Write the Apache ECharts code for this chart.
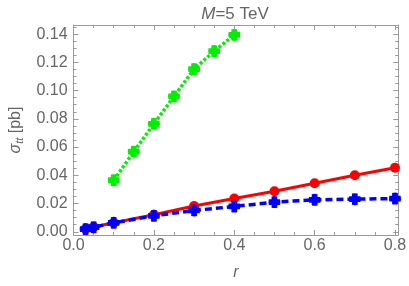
<!DOCTYPE html>
<html><head><meta charset="utf-8">
<script src="https://cdn.jsdelivr.net/npm/echarts@6/dist/echarts.min.js"></script>
<style>html,body{margin:0;padding:0;background:#fff}#c{width:409px;height:286px}</style>
</head><body><div id="c"></div>
<script>
var rBlue = [0.03, 0.05, 0.1, 0.2, 0.3, 0.4, 0.5, 0.6, 0.7, 0.8];
var sigmaBlue = [0.0019, 0.0032, 0.0063, 0.0113, 0.0151, 0.0179, 0.0210, 0.0226, 0.0231, 0.0235];
var rRed = [0.03, 0.05, 0.1, 0.2, 0.3, 0.4, 0.5, 0.6, 0.7, 0.8];
var sigmaRed = [0.0020, 0.0034, 0.0064, 0.0121, 0.0183, 0.0236, 0.0287, 0.0344, 0.0400, 0.0454];
var rGreen = [0.1, 0.15, 0.2, 0.25, 0.3, 0.35, 0.4];
var sigmaGreen = [0.0365, 0.0567, 0.0765, 0.0959, 0.1153, 0.1280, 0.1395];
var xTicks = [0.0, 0.2, 0.4, 0.6, 0.8];
var yTicks = [0.00, 0.02, 0.04, 0.06, 0.08, 0.10, 0.12, 0.14];

function pairs(xs, ys) { return xs.map(function (x, i) { return [x, ys[i]]; }); }
function minorList(major, step) {
  var out = [];
  for (var i = 0; i < major.length; i++) {
    for (var k = 1; k < 4; k++) out.push(+(major[i] + k * step).toFixed(4));
  }
  return out;
}
var crossPath = 'path://M2.6,0.3 Q5,-0.3 7.4,0.3 L7.4,2.6 L9.7,2.6 Q10.3,5 9.7,7.4 L7.4,7.4 L7.4,9.7 Q5,10.3 2.6,9.7 L2.6,7.4 L0.3,7.4 Q-0.3,5 0.3,2.6 L2.6,2.6 Z';
var txt = '#666666', frame = '#9a9a9a';
var FONT = 'Liberation Sans';

var xMin = 0, xMax = 0.808, yMin = -0.0023, yMax = 0.1465;
var xMinor = minorList(xTicks, 0.05).filter(function (v) { return v < xMax; });
var yMinor = minorList(yTicks, 0.005).filter(function (v) { return v < yMax; });

function axis(pos, min, max, majors, minors, showLine, labelOpt, extra) {
  var o = {
    type: 'value', position: pos, min: min, max: max,
    axisLine: { show: showLine, onZero: false, lineStyle: { color: frame, width: 1 } },
    axisTick: { show: true, inside: true, length: minors ? 3 : 5, customValues: minors || majors, lineStyle: { color: frame } },
    axisLabel: labelOpt || { show: false },
    splitLine: { show: false }
  };
  if (labelOpt) o.axisLabel.customValues = majors;
  for (var k in extra || {}) o[k] = extra[k];
  return o;
}

var chart = echarts.init(document.getElementById('c'), null, { renderer: 'canvas' });
chart.setOption({
  animation: false,
  title: {
    text: '{i|M}=5 TeV', left: 230, textAlign: 'center', top: 1,
    textStyle: { fontFamily: FONT, fontSize: 17, fontWeight: 'normal', color: txt,
      rich: { i: { fontFamily: FONT, fontSize: 17, fontStyle: 'italic', color: txt } } }
  },
  grid: { left: 63, right: 9, top: 25, bottom: 50 },
  xAxis: [
    axis('bottom', xMin, xMax, xTicks, null, true,
      { fontFamily: FONT, fontSize: 16, color: txt, margin: 3, formatter: function (v) { return v.toFixed(1); } },
      { name: 'r', nameLocation: 'middle', nameGap: 30,
        nameTextStyle: { fontFamily: FONT, fontSize: 16, fontStyle: 'italic', color: txt } }),
    axis('bottom', xMin, xMax, xTicks, xMinor, false),
    axis('top', xMin, xMax, xTicks, null, true),
    axis('top', xMin, xMax, xTicks, xMinor, false)
  ],
  yAxis: [
    axis('left', yMin, yMax, yTicks, null, true,
      { fontFamily: FONT, fontSize: 16, color: txt, margin: 6, formatter: function (v) { return v.toFixed(2); } },
      { name: '{s|σ}{t|tt} [pb]', nameLocation: 'middle', nameGap: 44,
        nameTextStyle: { fontFamily: FONT, fontSize: 16, color: txt,
          rich: { s: { fontFamily: FONT, fontSize: 16, fontStyle: 'italic', color: txt },
                  t: { fontFamily: FONT, fontSize: 11, fontStyle: 'italic', color: txt, verticalAlign: 'bottom', padding: [8, 0, 0, 0] } } } }),
    axis('left', yMin, yMax, yTicks, yMinor, false),
    axis('right', yMin, yMax, yTicks, null, true),
    axis('right', yMin, yMax, yTicks, yMinor, false)
  ],
  series: [
    { type: 'line', data: pairs(rGreen, sigmaGreen), symbol: crossPath, symbolSize: 12,
      itemStyle: { color: '#00f000' }, lineStyle: { color: '#00f000', width: 3.5, type: [3, 2] } },
    { type: 'line', data: pairs(rRed, sigmaRed), symbol: 'circle', symbolSize: 10,
      itemStyle: { color: '#ff0000' }, lineStyle: { color: '#ff0000', width: 3 } },
    { type: 'line', data: pairs(rBlue, sigmaBlue), symbol: crossPath, symbolSize: 12,
      itemStyle: { color: '#0000ff' }, lineStyle: { color: '#0000ff', width: 3.5, type: [7, 4] } }
  ]
});
</script></body></html>
